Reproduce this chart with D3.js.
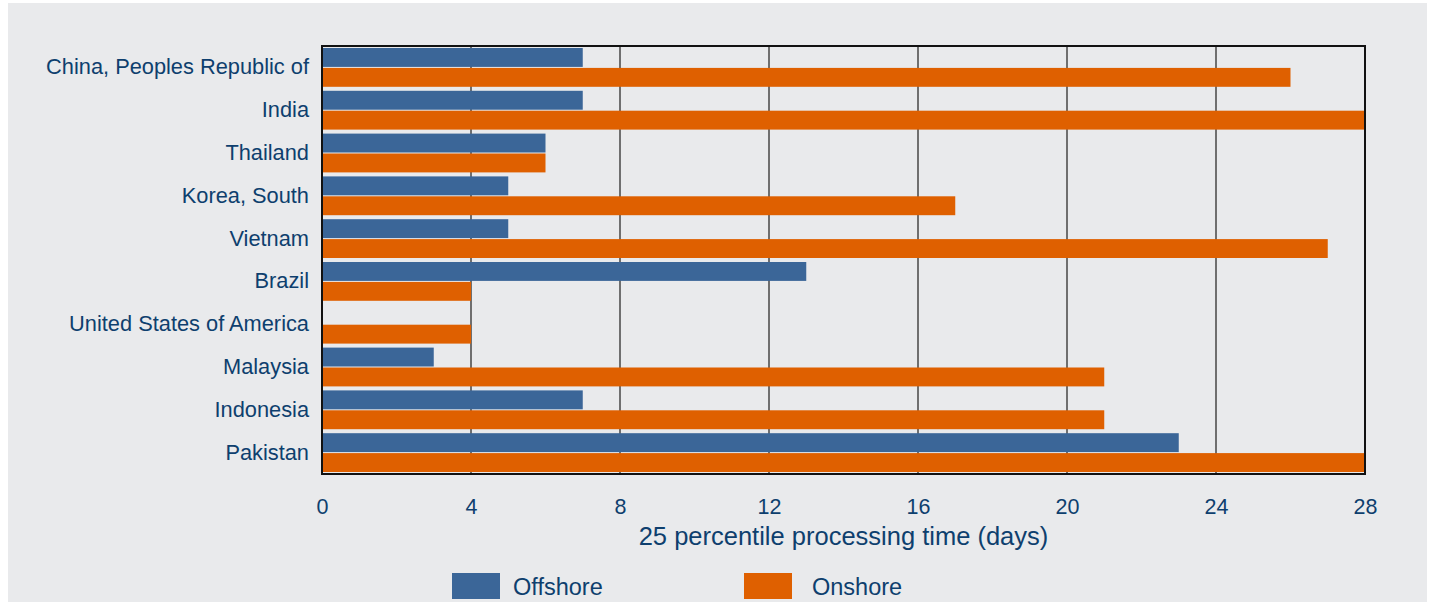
<!DOCTYPE html>
<html><head><meta charset="utf-8">
<script src="https://cdn.jsdelivr.net/npm/d3@7/dist/d3.min.js"></script>
<style>body{margin:0;background:#fff;}svg{display:block;}</style>
</head><body>
<script>
const categories = ["China, Peoples Republic of","India","Thailand","Korea, South","Vietnam","Brazil","United States of America","Malaysia","Indonesia","Pakistan"];
const offshore = [7,7,6,5,5,13,0,3,7,23];
const onshore = [26,28,6,17,27,4,4,21,21,28];
const seriesNames = ["Offshore","Onshore"];
const xTicks = [0,4,8,12,16,20,24,28];

const W=1430,H=602;
const colors=["#3b6698","#df6000"];
const textColor="#0e3f6e";
const font="'Liberation Sans', Arial, sans-serif";
const svg=d3.select("body").append("svg").attr("width",W).attr("height",H);
svg.append("rect").attr("x",8).attr("y",3).attr("width",1419).attr("height",H-3).attr("fill","#e9eaec");

const m={l:322,r:1365,t:46,b:474};
const x=d3.scaleLinear().domain([0,28]).range([m.l,m.r]);
const y=d3.scaleBand().domain(categories).range([m.t,m.b]);
const inner=d3.scaleBand().domain(seriesNames).range([2,y.bandwidth()-2]).paddingInner(0.05);

// gridlines
svg.append("g").selectAll("line").data(xTicks.slice(1,-1)).join("line")
 .attr("x1",d=>x(d)).attr("x2",d=>x(d)).attr("y1",m.t).attr("y2",m.b)
 .attr("stroke","#6f6f6f").attr("stroke-width",2);

const data=categories.map((c,i)=>({c,vals:[offshore[i],onshore[i]]}));
const g=svg.append("g");
seriesNames.forEach((s,si)=>{
  g.selectAll("rect.s"+si).data(data).join("rect").attr("class","s"+si)
   .attr("x",x(0)).attr("y",d=>y(d.c)+inner(s))
   .attr("width",d=>x(d.vals[si])-x(0)).attr("height",inner.bandwidth())
   .attr("fill",colors[si]);
});

// frame
svg.append("rect").attr("x",m.l).attr("y",m.t).attr("width",m.r-m.l).attr("height",m.b-m.t)
 .attr("fill","none").attr("stroke","#111").attr("stroke-width",2);

// x axis
const xa=svg.append("g").attr("transform",`translate(0,${m.b})`)
 .call(d3.axisBottom(x).tickValues(xTicks).tickSize(0).tickPadding(25));
xa.select(".domain").remove();
xa.selectAll("text").attr("fill",textColor).style("font-family",font).style("font-size","21.5px");

// y axis
const ya=svg.append("g").attr("transform",`translate(${m.l},0)`)
 .call(d3.axisLeft(y).tickSize(0).tickPadding(13));
ya.select(".domain").remove();
ya.selectAll("text").attr("fill",textColor).style("font-family",font).style("font-size","21.8px");

svg.append("text").attr("x",(m.l+m.r)/2).attr("y",545).attr("text-anchor","middle")
 .attr("fill",textColor).style("font-family",font).style("font-size","25.5px")
 .text("25 percentile processing time (days)");

// legend
const legX=[452,744], legT=[513,812];
seriesNames.forEach((s,i)=>{
  svg.append("rect").attr("x",legX[i]).attr("y",573).attr("width",48).attr("height",26).attr("fill",colors[i]);
  svg.append("text").attr("x",legT[i]).attr("y",595).attr("fill",textColor)
   .style("font-family",font).style("font-size","23.5px").text(s);
});
</script>
</body></html>
